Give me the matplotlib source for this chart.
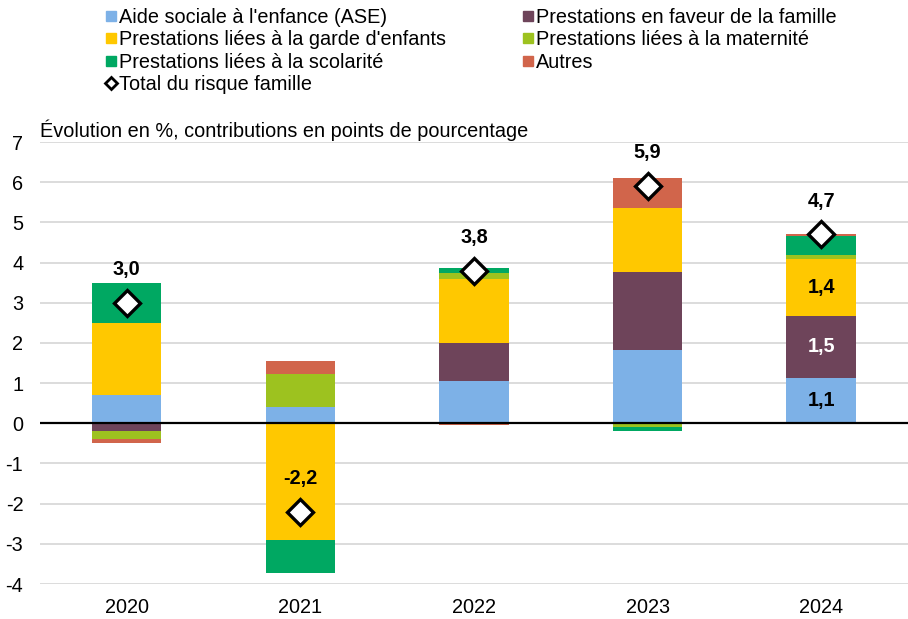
import numpy as np
import matplotlib.pyplot as plt
from matplotlib.lines import Line2D

plt.rcParams['font.family'] = ['Liberation Sans', 'DejaVu Sans']
plt.rcParams['axes.unicode_minus'] = False

years = ["2020", "2021", "2022", "2023", "2024"]
ase = [0.70, 0.40, 1.05, 1.82, 1.14]
famille = [-0.20, 0.00, 0.94, 1.94, 1.53]
garde = [1.80, -2.90, 1.59, 1.59, 1.43]
maternite = [-0.18, 0.82, 0.15, -0.10, 0.10]
scolarite = [1.00, -0.82, 0.14, -0.10, 0.46]
autres = [-0.12, 0.33, -0.03, 0.76, 0.06]
total = [3.0, -2.2, 3.8, 5.9, 4.7]
total_lbl = ["3,0", "-2,2", "3,8", "5,9", "4,7"]

series = [
    ("Aide sociale à l'enfance (ASE)", ase, "#7DB1E7"),
    ("Prestations en faveur de la famille", famille, "#6E445A"),
    ("Prestations liées à la garde d'enfants", garde, "#FFC800"),
    ("Prestations liées à la maternité", maternite, "#9DC21F"),
    ("Prestations liées à la scolarité", scolarite, "#00A862"),
    ("Autres", autres, "#D1654B"),
]

FS = 14.3

fig = plt.figure(figsize=(9.08, 6.19), dpi=100)
ax = fig.add_axes([0.044, 0.0565, 0.956, 0.714])

x = np.arange(len(years))
pos = np.zeros(len(years))
neg = np.zeros(len(years))
for name, vals, col in series:
    v = np.array(vals)
    bottom = np.where(v >= 0, pos, neg)
    ax.bar(x, v, 0.4, bottom=bottom, color=col, zorder=2)
    pos += np.where(v >= 0, v, 0)
    neg += np.where(v < 0, v, 0)

# labels inside 2024 bar
ax.text(4, ase[4] / 2, "1,1", ha="center", va="center", fontsize=FS, fontweight="bold", color="black", zorder=4)
ax.text(4, ase[4] + famille[4] / 2, "1,5", ha="center", va="center", fontsize=FS, fontweight="bold", color="white", zorder=4)
ax.text(4, ase[4] + famille[4] + garde[4] / 2, "1,4", ha="center", va="center", fontsize=FS, fontweight="bold", color="black", zorder=4)

ax.plot(x, total, linestyle="none", marker="D", markersize=13, markerfacecolor="white",
        markeredgecolor="black", markeredgewidth=2.4, zorder=5)
for xi, t, lbl in zip(x, total, total_lbl):
    ax.annotate(lbl, (xi, t), xytext=(0, 24), textcoords="offset points", ha="center", va="center",
                fontsize=FS, fontweight="bold", zorder=6)

ax.axhline(0, color="black", linewidth=1.6, zorder=3)
ax.set_xlim(-0.5, 4.5)
ax.set_ylim(-4, 7)
ax.set_yticks(range(-4, 8))
ax.set_xticks(x)
ax.set_xticklabels(years)
ax.grid(axis="y", color="#D9D9D9", linewidth=1.3, zorder=0)
ax.set_axisbelow(True)
for s in ax.spines.values():
    s.set_visible(False)
ax.tick_params(length=0, labelsize=FS)
ax.tick_params(axis="y", pad=12)
ax.tick_params(axis="x", pad=10)

fig.text(0.044, 0.79, "Évolution en %, contributions en points de pourcentage", fontsize=FS, va="center")

handles = []
for name, vals, col in series:
    handles.append(Line2D([], [], linestyle="none", marker="s", markersize=7.5, color=col, label=name))
total_h = Line2D([], [], linestyle="none", marker="D", markersize=6, markerfacecolor="white",
                 markeredgecolor="black", markeredgewidth=2, label="Total du risque famille")
# column-first filling: col1 ASE, garde, scolarite, total ; col2 famille, maternite, autres
order = [handles[0], handles[2], handles[4], total_h, handles[1], handles[3], handles[5]]
fig.legend(handles=order, loc="upper left", bbox_to_anchor=(0.108, 1.0), ncol=2, frameon=False,
           fontsize=FS, handlelength=0.5, handletextpad=0.15, labelspacing=0.17, columnspacing=3.9,
           borderaxespad=0)

fig.savefig("out.png", dpi=100)
